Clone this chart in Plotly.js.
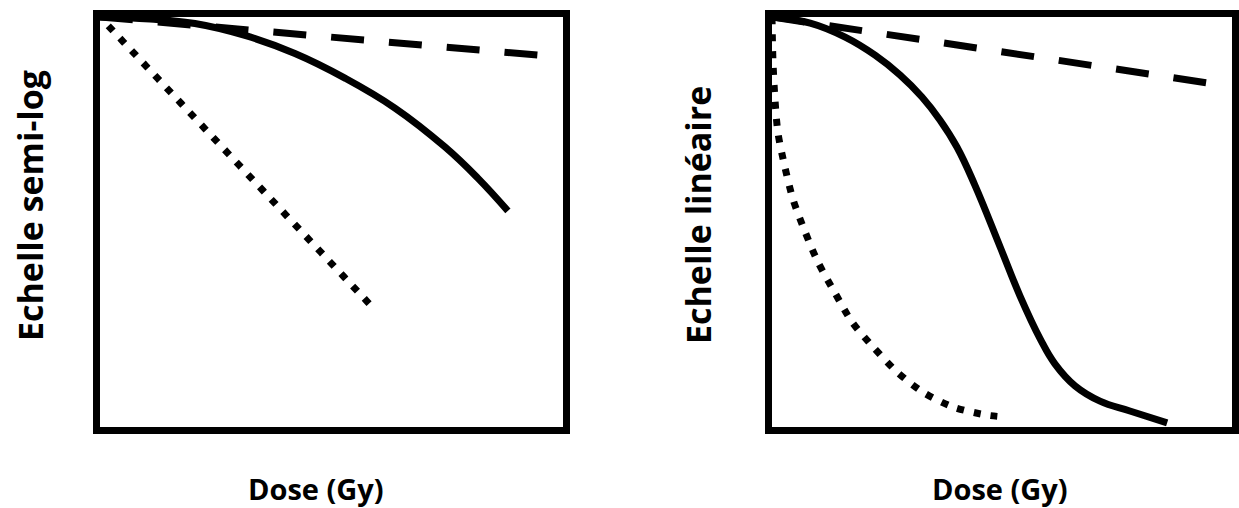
<!DOCTYPE html>
<html>
<head>
<meta charset="utf-8">
<script src="https://cdn.plot.ly/plotly-3.0.1.min.js"></script>
<style>
  html, body { margin: 0; padding: 0; background: #fff; }
  #chart { width: 1239px; height: 508px; }
</style>
</head>
<body>
<div id="chart"></div>
<script>
// ---- Data (relative units, 0-100 on both axes of each panel) ----
// Left panel: "Echelle semi-log"
const leftDashedX = [0, 94.6];
const leftDashedY = [100, 90.7];

const leftSolidX = [0, 10.8, 20.5, 31.3, 42.1, 52.9, 63.7, 74.5, 81.6, 88.1];
const leftSolidY = [100, 99.5, 98.4, 95.5, 91.1, 85.1, 77.8, 68.3, 60.7, 52.7];

const leftDottedX = [0, 59.2];
const leftDottedY = [100, 28.8];

// Right panel: "Echelle linéaire"
const rightDashedX = [0, 94.8];
const rightDashedY = [100, 83.9];

const rightSolidX = [0, 8.3, 15.9, 22.4, 27.8, 32.6, 36.5, 40.2, 44.1, 49.6, 53.9, 58.3, 61.5, 65.9, 71.3, 77.8, 85.9];
const rightSolidY = [100, 98.5, 95.1, 90.7, 85.9, 80.5, 74.9, 68.3, 59.0, 43.9, 32.0, 21.5, 15.4, 10.0, 6.3, 3.9, 1.0];

const rightDottedX = [0, 0.2, 0.65, 1.3, 2.8, 4.6, 7.2, 10.0, 13.7, 17.4, 22.0, 27.2, 32.8, 39.3, 46.7, 51.1];
const rightDottedY = [100, 89.5, 79.8, 71.7, 63.4, 55.4, 47.6, 40.2, 32.7, 25.6, 19.5, 13.4, 8.5, 4.9, 2.9, 2.4];

// ---- Text ----
const yLabels = ["Echelle semi-log", "Echelle linéaire"];
const xLabels = ["Dose (Gy)", "Dose (Gy)"];

const W = 1239, H = 508;
const FAMILY = "Open Sans, Noto Sans, sans-serif";

const lineW = 7;
const styles = {
  dashed: { color: "#000", width: lineW, dash: "33px,25px" },
  solid:  { color: "#000", width: lineW, shape: "spline", smoothing: 1.2 },
  dotted: { color: "#000", width: lineW, dash: "2.1px,10px,4.9px,0px" }
};
const dottedSpline = { color: "#000", width: lineW, dash: "7px,10px", shape: "spline", smoothing: 0.8 };

function tr(x, y, line, xa, ya) {
  return { x: x, y: y, mode: "lines", line: line, xaxis: xa, yaxis: ya,
           hoverinfo: "skip", showlegend: false };
}

const traces = [
  tr(leftDashedX, leftDashedY, styles.dashed, "x", "y"),
  tr(leftSolidX, leftSolidY, styles.solid, "x", "y"),
  tr(leftDottedX, leftDottedY, styles.dotted, "x", "y"),
  tr(rightDashedX, rightDashedY, styles.dashed, "x2", "y2"),
  tr(rightSolidX, rightSolidY, styles.solid, "x2", "y2"),
  tr(rightDottedX, rightDottedY, dottedSpline, "x2", "y2")
];

function axis(domain, anchor) {
  return {
    domain: domain, anchor: anchor, range: [0, 100], fixedrange: true,
    showline: true, mirror: true, linewidth: lineW, linecolor: "#000",
    showgrid: false, zeroline: false, showticklabels: false, ticks: ""
  };
}

const yDom = [1 - 427 / H, 1 - 17 / H];

function ann(text, px, py, angle, size) {
  return { text: "<b>" + text + "</b>", xref: "paper", yref: "paper", x: px / W, y: 1 - py / H,
           xanchor: "center", yanchor: "middle", showarrow: false,
           textangle: angle, font: { family: FAMILY, size: size, color: "#000" } };
}

const layout = {
  width: W, height: H,
  margin: { l: 0, r: 0, t: 0, b: 0, pad: 0 },
  paper_bgcolor: "#fff", plot_bgcolor: "#fff",
  showlegend: false,
  xaxis: axis([100 / W, 563 / W], "y"),
  yaxis: axis(yDom, "x"),
  xaxis2: axis([772 / W, 1232 / W], "y2"),
  yaxis2: axis(yDom, "x2"),
  annotations: [
    ann(yLabels[0], 30, 206, -90, 34),
    ann(xLabels[0], 316, 488, 0, 29),
    ann(yLabels[1], 698, 215, -90, 34),
    ann(xLabels[1], 1000, 488, 0, 29)
  ]
};

Plotly.newPlot("chart", traces, layout, { staticPlot: true, displayModeBar: false });
</script>
</body>
</html>
